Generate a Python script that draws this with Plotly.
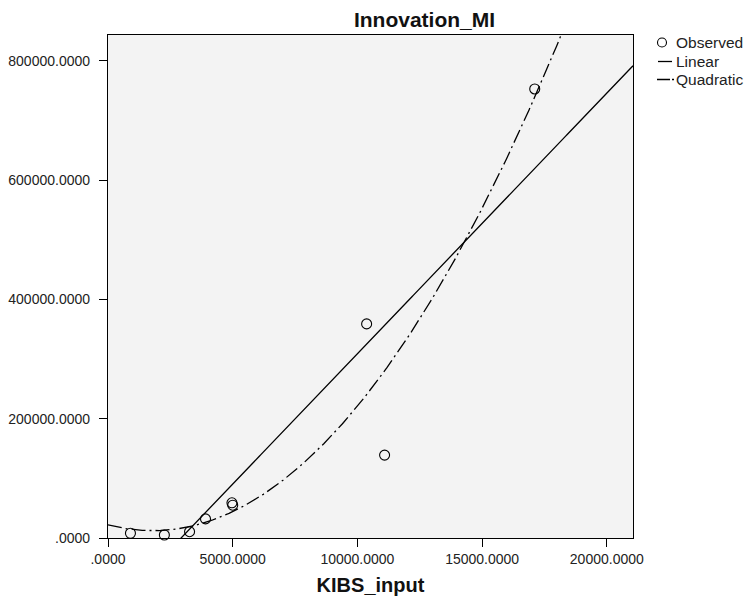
import numpy as np
import plotly.graph_objects as go

kibs_input = [900, 2260, 3270, 3910, 4970, 5000, 10370, 11090, 17110]
innovation_mi = [8000, 5000, 10600, 32000, 59000, 55000, 359000, 139000, 753000]

x_ticks = [0, 5000, 10000, 15000, 20000]
x_ticktext = [".0000", "5000.0000", "10000.0000", "15000.0000", "20000.0000"]
y_ticks = [0, 200000, 400000, 600000, 800000]
y_ticktext = [".0000", "200000.0000", "400000.0000", "600000.0000", "800000.0000"]

legend_names = ["Observed", "Linear", "Quadratic"]

x_range = [0, 21050]
y_range = [0, 843500]

# Curve fits
lin = np.polyfit(kibs_input, innovation_mi, 1)
quad = np.polyfit(kibs_input, innovation_mi, 2)
xs = np.linspace(x_range[0], x_range[1], 400)

font = "Liberation Sans, Arial, sans-serif"
W, H = 747, 597
L, R, T, B = 108, 114, 35, 59
PW, PH = W - L - R, H - T - B
QUAD_DASH = "14px,4px,2px,4px"

fig = go.Figure()
fig.add_trace(go.Scatter(
    x=kibs_input, y=innovation_mi, mode="markers", name=legend_names[0],
    marker=dict(symbol="circle-open", size=10, color="black", line=dict(width=1.1, color="black")),
    cliponaxis=False, showlegend=False,
))
fig.add_trace(go.Scatter(
    x=xs, y=np.polyval(lin, xs), mode="lines", name=legend_names[1],
    line=dict(color="black", width=1.3), showlegend=False,
))
fig.add_trace(go.Scatter(
    x=xs, y=np.polyval(quad, xs), mode="lines", name=legend_names[2],
    line=dict(color="black", width=1.3, dash=QUAD_DASH), showlegend=False,
))

# Legend drawn in the right margin (pixel positions converted to paper coords)
def px(xp):
    return (xp - L) / PW

def py(yp):
    return 1 - (yp - T) / PH

shapes = []
annotations = []
rows_y = [42.5, 61.5, 79.5]
for name, yy in zip(legend_names, rows_y):
    annotations.append(dict(text=name, x=px(674), y=py(yy), xref="paper", yref="paper",
                            xanchor="left", yanchor="middle", showarrow=False,
                            font=dict(size=15.5, color="#222")))
r = 4.5
shapes.append(dict(type="circle", xref="paper", yref="paper",
                   x0=px(662 - r), x1=px(662 + r), y0=py(rows_y[0] + r), y1=py(rows_y[0] - r),
                   line=dict(color="black", width=1.1)))
shapes.append(dict(type="line", xref="paper", yref="paper",
                   x0=px(658), x1=px(672), y0=py(rows_y[1]), y1=py(rows_y[1]),
                   line=dict(color="black", width=1.3)))
shapes.append(dict(type="line", xref="paper", yref="paper",
                   x0=px(657), x1=px(674), y0=py(rows_y[2]), y1=py(rows_y[2]),
                   line=dict(color="black", width=1.3, dash="13px,2px,2px,3px")))

fig.update_layout(
    width=W, height=H,
    margin=dict(l=L, r=R, t=T, b=B, autoexpand=False),
    paper_bgcolor="white",
    plot_bgcolor="#f3f3f3",
    font=dict(family=font, size=14, color="#222"),
    title=dict(text="<b>Innovation_MI</b>", x=424.5 / W, xanchor="center",
               y=1 - 20 / H, yanchor="middle", font=dict(size=21, color="#111")),
    showlegend=False,
    shapes=shapes,
    annotations=annotations,
    xaxis=dict(range=x_range, tickvals=x_ticks, ticktext=x_ticktext,
               showgrid=False, zeroline=False, showline=True, linecolor="black",
               linewidth=1.3, mirror=True, ticks="outside", ticklen=8, tickcolor="black",
               tickwidth=1.3,
               title=dict(text="<b>KIBS_input</b>", font=dict(size=20, color="#111"), standoff=12)),
    yaxis=dict(range=y_range, tickvals=y_ticks, ticktext=y_ticktext,
               showgrid=False, zeroline=False, showline=True, linecolor="black",
               linewidth=1.3, mirror=True, ticks="outside", ticklen=8, tickcolor="black",
               tickwidth=1.3, ticklabelstandoff=6),
)

fig.write_html("out.html")
